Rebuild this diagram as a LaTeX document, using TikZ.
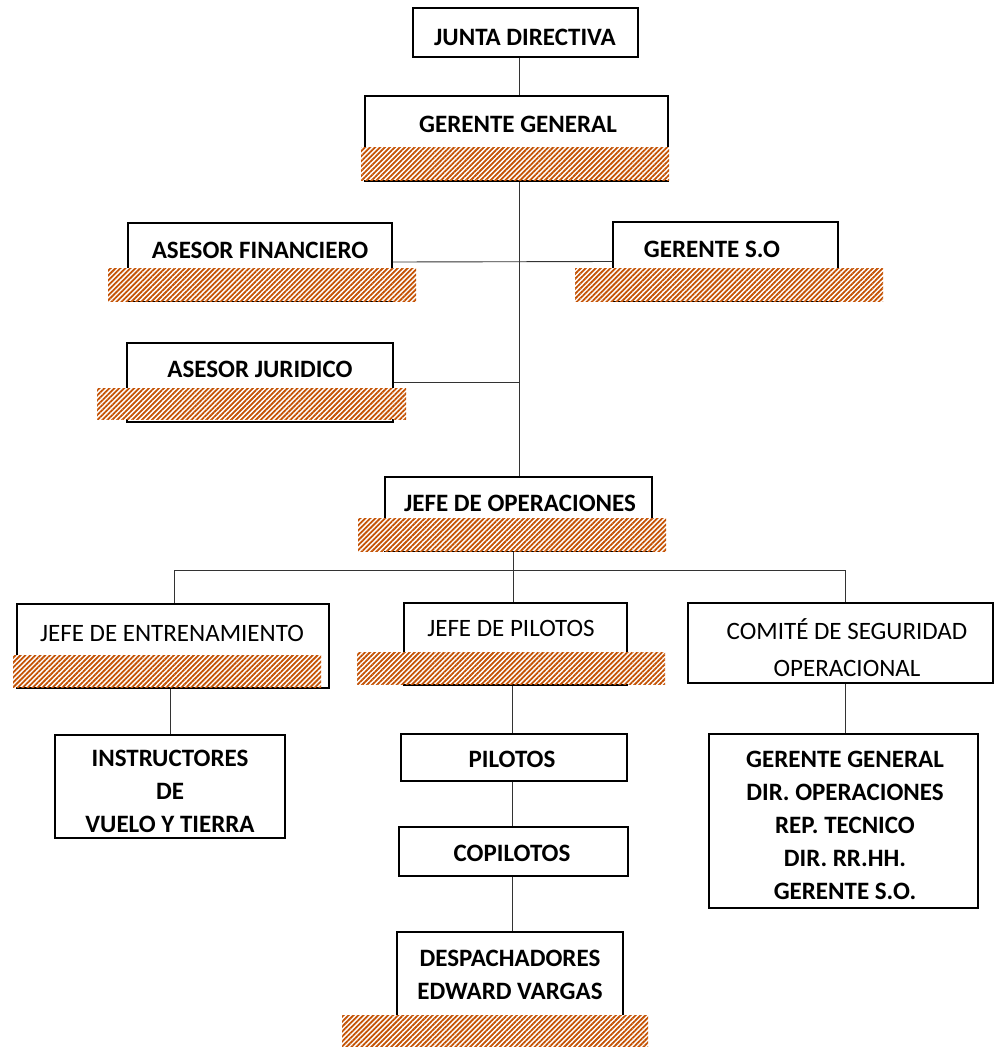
\documentclass[tikz,border=0pt]{standalone}
\usepackage{fontspec}
\setmainfont{Carlito}
\usetikzlibrary{patterns.meta}
\definecolor{hatchc}{RGB}{196,82,4}
\tikzset{
  box/.style={draw=black, line width=1.4pt, rectangle, inner sep=0pt},
  lbl/.style={font=\bfseries\fontsize{25}{33}\selectfont, align=center, inner sep=0pt},
  lblr/.style={font=\fontsize{25}{37}\selectfont, align=center, inner sep=0pt},
  conn/.style={draw=black!80, line width=0.9pt},
  hatch/.style={preaction={fill=white}, pattern={Lines[angle=45,distance=3.5pt,line width=1.8pt]}, pattern color=hatchc}
}
\begin{document}
\begin{tikzpicture}[x=1pt,y=-1pt]
\useasboundingbox (0,0) rectangle (994,1047);
\fill[white] (0,0) rectangle (994,1047);
% boxes
\node[box, minimum width=225, minimum height=49] (jd) at (525.5,32.5) {};
\node[box, minimum width=303, minimum height=85] (gg) at (516.5,138.5) {};
\node[box, minimum width=264, minimum height=78] (af) at (260,262) {};
\node[box, minimum width=225, minimum height=79] (gso) at (725.5,261.5) {};
\node[box, minimum width=266, minimum height=79] (aj) at (260,382.5) {};
\node[box, minimum width=267, minimum height=74] (jo) at (518.5,514) {};
\node[box, minimum width=312, minimum height=84] (je) at (173,646) {};
\node[box, minimum width=223, minimum height=82] (jp) at (515.5,644) {};
\node[box, minimum width=305, minimum height=80] (cs) at (840.5,643) {};
\node[box, minimum width=230, minimum height=103] (ins) at (170,786.5) {};
\node[box, minimum width=226, minimum height=47] (pil) at (514,757.5) {};
\node[box, minimum width=229, minimum height=49] (cop) at (513.5,851.5) {};
\node[box, minimum width=269, minimum height=174] (gl) at (843.5,821) {};
\node[box, minimum width=226, minimum height=100] (des) at (510,982) {};
% labels
\node[lbl] (tjd) at (525,37) {JUNTA DIRECTIVA};
\node[lbl] (tgg) at (518,124) {GERENTE GENERAL};
\node[lbl] (taf) at (260,250) {ASESOR FINANCIERO};
\node[lbl] (tgso) at (712,249) {GERENTE S.O};
\node[lbl] (taj) at (260,369) {ASESOR JURIDICO};
\node[lbl] (tjo) at (520,503) {JEFE DE OPERACIONES};
\node[lblr] (tje) at (172,633) {JEFE DE ENTRENAMIENTO};
\node[lblr] (tjp) at (511,628) {JEFE DE PILOTOS};
\node[lblr] (tcs) at (847,648) {COMITÉ DE SEGURIDAD\\OPERACIONAL};
\node[lbl] (tins) at (170,791) {INSTRUCTORES\\DE\\VUELO Y TIERRA};
\node[lbl] (tpil) at (512,759) {PILOTOS};
\node[lbl] (tcop) at (512,853) {COPILOTOS};
\node[lbl] (tgl) at (845,825) {GERENTE GENERAL\\DIR. OPERACIONES\\REP. TECNICO\\DIR. RR.HH.\\GERENTE S.O.};
\node[lbl] (tdes) at (510,975) {DESPACHADORES\\EDWARD VARGAS};
% connectors
\coordinate (t) at (519,0);
\coordinate (b) at (513,570);
\coordinate (bl) at (174,570);
\coordinate (br) at (845,570);
\coordinate (c) at (512,0);
\draw[conn] (t |- jd.south) -- (t |- gg.north);
\draw[conn] (t |- gg.south) -- (t |- jo.north);
\draw[conn] (af.east) -- (gso.west);
\draw[conn] (aj.east) -- (aj.east -| t);
\draw[conn] (b |- jo.south) -- (b);
\draw[conn] (bl) -- (br);
\draw[conn] (bl) -- (bl |- je.north);
\draw[conn] (b) -- (b |- jp.north);
\draw[conn] (br) -- (br |- cs.north);
\draw[conn] (je.south -| ins.north) -- (ins.north);
\draw[conn] (c |- jp.south) -- (c |- pil.north);
\draw[conn] (c |- pil.south) -- (c |- cop.north);
\draw[conn] (c |- cop.south) -- (c |- des.north);
\draw[conn] (br |- cs.south) -- (br |- gl.north);
% redaction hatches
\fill[hatch] (361,147) rectangle (669,180);
\fill[hatch] (108,268) rectangle (416,301);
\fill[hatch] (575,268) rectangle (883,301);
\fill[hatch] (97,388) rectangle (406,419);
\fill[hatch] (358,518) rectangle (666,551);
\fill[hatch] (13,655) rectangle (321,687);
\fill[hatch] (357,652) rectangle (665,684);
\fill[hatch] (342,1015) rectangle (648,1047);
\end{tikzpicture}
\end{document}
